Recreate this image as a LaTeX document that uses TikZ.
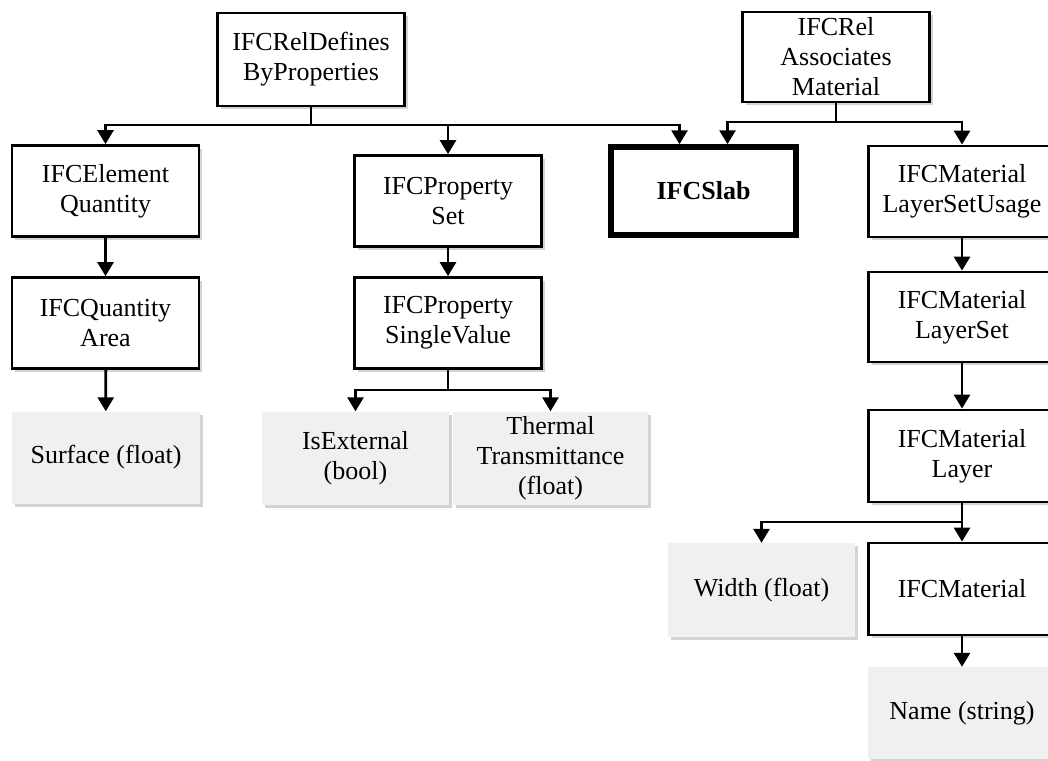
\documentclass[tikz,border=0pt]{standalone}
\usepackage{fontspec}
\setmainfont{Liberation Serif}
\usetikzlibrary{arrows.meta,shadows}

\tikzset{
  boxfont/.style={font=\fontsize{26}{30}\selectfont},
  boxshadow/.style={drop shadow={shadow xshift=3pt,shadow yshift=-3pt,opacity=0.35}},
  ifcbox/.style={draw,line width=2.8pt,fill=white,minimum width=187pt,minimum height=91pt,
    align=center,inner sep=2pt,boxfont,boxshadow},
  slabbox/.style={ifcbox,line width=5.5pt,font=\fontsize{26}{30}\selectfont\bfseries},
  valbox/.style={fill=gray!12,minimum width=188pt,minimum height=92pt,
    align=center,inner sep=2pt,boxfont,boxshadow},
  link/.style={line width=2.8pt,-{Triangle[width=16pt,length=14pt]}},
}

\begin{document}
\begin{tikzpicture}[x=1pt,y=-1pt]
  \useasboundingbox (0,0) rectangle (1048,760);

  \node[ifcbox,minimum height=93pt] (defs) at (311,59.5) {IFCRelDefines\\ByProperties};
  \node[ifcbox,minimum height=90pt] (assoc) at (836,57) {IFCRel\\Associates\\Material};

  \node[ifcbox] (elemq) at (105.5,191) {IFCElement\\Quantity};
  \node[ifcbox] (pset) at (448,201) {IFCProperty\\Set};
  \node[slabbox,minimum width=185pt,minimum height=88pt] (slab) at (703.5,191) {IFCSlab};
  \node[ifcbox] (lsu) at (962,191.5) {IFCMaterial\\LayerSetUsage};

  \node[ifcbox] (qarea) at (105.5,323) {IFCQuantity\\Area};
  \node[ifcbox] (psv) at (448,323) {IFCProperty\\SingleValue};
  \node[ifcbox,minimum height=90pt] (lset) at (962,317) {IFCMaterial\\LayerSet};

  \node[valbox] (surface) at (106,457.5) {Surface (float)};
  \node[valbox,minimum width=187pt,minimum height=93pt] (isext) at (355.5,458) {IsExternal\\(bool)};
  \node[valbox,minimum width=195pt,minimum height=93pt] (therm) at (550.5,458) {Thermal\\Transmittance\\(float)};
  \node[ifcbox,minimum height=92pt] (layer) at (962,456) {IFCMaterial\\Layer};

  \node[valbox,minimum width=187pt,minimum height=94pt] (width) at (761.5,590) {Width (float)};
  \node[ifcbox,minimum height=92pt] (mat) at (962,589) {IFCMaterial};
  \node[valbox] (name) at (962,713) {Name (string)};

  \coordinate (defbus) at (311,125);
  \coordinate (assocbus) at (836,122);
  \coordinate (psvbus) at (448,390);
  \coordinate (layerbus) at (962,522);

  \draw[link] (defs.south) -- (defbus) -| (elemq.north);
  \draw[link] (defbus) -| (pset.north);
  \draw[link] (defbus) -| ([xshift=-24pt]slab.north);
  \draw[link] (assoc.south) -- (assocbus) -| ([xshift=24pt]slab.north);
  \draw[link] (assocbus) -| (lsu.north);

  \draw[link] (elemq) -- (qarea);
  \draw[link] (qarea) -- (surface);
  \draw[link] (pset) -- (psv);
  \draw[link] (psv.south) -- (psvbus) -| (isext.north);
  \draw[link] (psvbus) -| (therm.north);

  \draw[link] (lsu) -- (lset);
  \draw[link] (lset) -- (layer);
  \draw[link] (layer.south) -- (layerbus) -| (width.north);
  \draw[link] (layerbus) -- (mat.north);
  \draw[link] (mat) -- (name);
\end{tikzpicture}
\end{document}
